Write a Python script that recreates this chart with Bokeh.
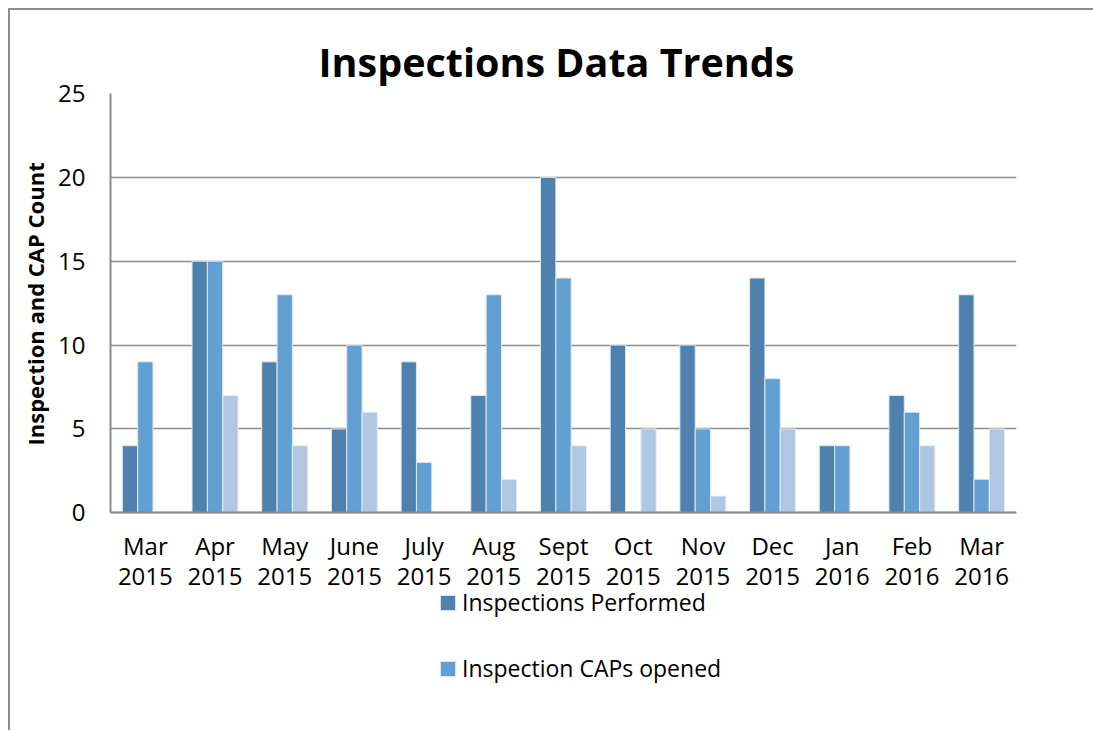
from bokeh.plotting import figure
from bokeh.models import (ColumnDataSource, Legend, LegendItem, FixedTicker, LinearAxis,
                          Title, Range1d)
from bokeh.transform import dodge
from bokeh.embed import file_html
from bokeh.resources import INLINE

months = ["Mar 2015", "Apr 2015", "May 2015", "June 2015", "July 2015", "Aug 2015", "Sept 2015",
          "Oct 2015", "Nov 2015", "Dec 2015", "Jan 2016", "Feb 2016", "Mar 2016"]
performed = [4, 15, 9, 5, 9, 7, 20, 10, 10, 14, 4, 7, 13]
caps_opened = [9, 15, 13, 10, 3, 13, 14, 0, 5, 8, 4, 6, 2]
caps_closed = [0, 7, 4, 6, 0, 2, 4, 5, 1, 5, 0, 4, 5]
y_ticks = [0, 5, 10, 15, 20, 25]
series_names = ["Inspections Performed", "Inspection CAPs opened"]

FONT = "Open Sans"
idx = list(range(len(months)))
src = ColumnDataSource(dict(x=idx, a=performed, b=caps_opened, c=caps_closed))

p = figure(x_range=Range1d(-0.5, len(months) - 0.5), y_range=Range1d(-13.1, 25),
           width=1085, height=722, output_backend="svg", toolbar_location=None,
           x_axis_location=None, y_axis_location=None,
           min_border_left=100, min_border_right=79, min_border_top=83, min_border_bottom=0,
           styles={"margin-left": "8px", "margin-top": "8px",
                   "border-top": "2px solid #8c8c8c", "border-left": "2px solid #8c8c8c"})

w = 0.22
r1 = p.vbar(x=dodge("x", -w), top="a", width=w, source=src,
            fill_color="#4f81ae", line_color="#dfe8f2", line_width=1)
r2 = p.vbar(x=dodge("x", 0), top="b", width=w, source=src,
            fill_color="#629fd3", line_color="#dfe8f2", line_width=1)
r3 = p.vbar(x=dodge("x", w), top="c", width=w, source=src,
            fill_color="#b0c7e4", line_color="#e8eef7", line_width=1)

p.title.text = "Inspections Data Trends"
p.title.align = "left"
p.title.offset = 208
p.title.text_font = FONT
p.title.text_font_size = "39.5px"
p.title.text_font_style = "bold"
p.title.text_color = "black"

p.outline_line_color = None

# y axis (line limited to the 0..25 span)
yaxis = LinearAxis(ticker=FixedTicker(ticks=y_ticks), bounds=(0, 25))
p.add_layout(yaxis, "left")
ylab = Title(text="Inspection and CAP Count", align="left", offset=287,
             text_font=FONT, text_font_size="22px", text_font_style="bold",
             text_color="black", standoff=12)
p.add_layout(ylab, "left")

# x axes fixed at y = 0: month line and year line
month_axis = LinearAxis(ticker=FixedTicker(ticks=idx), fixed_location=0,
                        major_label_overrides={i: m.split(" ")[0] for i, m in zip(idx, months)})
year_axis = LinearAxis(ticker=FixedTicker(ticks=idx), fixed_location=0,
                       major_label_overrides={i: m.split(" ")[1] for i, m in zip(idx, months)})
p.add_layout(month_axis, "below")
p.add_layout(year_axis, "below")

for ax in (month_axis, year_axis, yaxis):
    ax.major_label_text_font = FONT
    ax.major_label_text_font_size = "24px"
    ax.major_label_text_color = "black"
    ax.major_tick_line_color = None
    ax.major_tick_out = 0
    ax.major_tick_in = 0
    ax.minor_tick_line_color = None
    ax.axis_line_color = "#8c8c8c"
    ax.axis_line_width = 2
year_axis.axis_line_color = None
yaxis.major_label_standoff = 25
month_axis.major_label_standoff = 16
year_axis.major_label_standoff = 55

p.xgrid.grid_line_color = None
p.ygrid.grid_line_color = "#8c8c8c"
p.ygrid.grid_line_width = 1.5

legend = Legend(items=[LegendItem(label=series_names[0], renderers=[r1]),
                       LegendItem(label=series_names[1], renderers=[r2])],
                location=(328, 48), orientation="vertical",
                border_line_color=None, background_fill_alpha=0,
                label_text_font=FONT, label_text_font_size="23px", label_text_color="black",
                glyph_width=19, glyph_height=19, label_height=30, spacing=34,
                padding=0, margin=0, label_standoff=5)
p.add_layout(legend, "center")

open("out.html", "w").write(file_html(p, INLINE))
